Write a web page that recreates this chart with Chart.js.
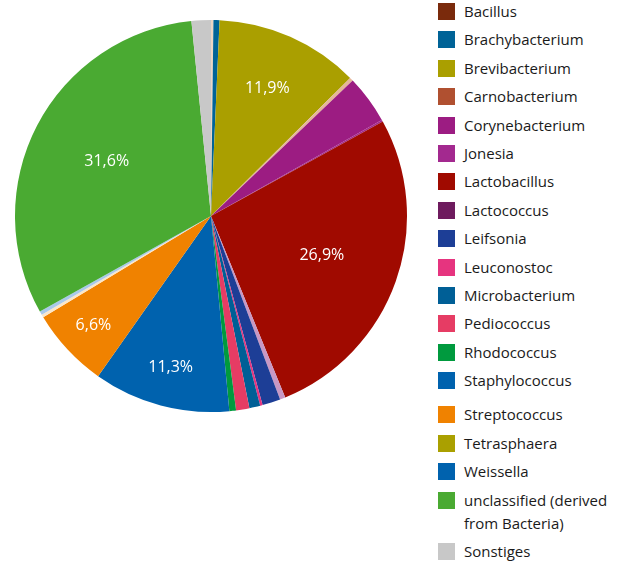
<!DOCTYPE html>
<html>
<head>
<meta charset="utf-8">
<script src="https://cdn.jsdelivr.net/npm/chart.js@4/dist/chart.umd.min.js"></script>
<style>
    body { margin: 0; background: #fff; width: 621px; height: 563px; position: relative; overflow: hidden; }
    #wrap { position: absolute; left: 0; top: 0; width: 422px; height: 432px; }
    #legend { position: absolute; left: 438px; top: 0; margin: 0; padding: 0; list-style: none;
              font-family: "Open Sans", sans-serif; font-size: 15px; color: #1a1a1a; }
    #legend li { position: relative; padding-left: 26px; line-height: 23px; min-height: 23px; margin-bottom: 5.42px; width: 180px; }
    #legend li span.box { position: absolute; left: 0; top: 3px; width: 17px; height: 17px; }
</style>
</head>
<body>
<div id="wrap"><canvas id="pieChart"></canvas></div>
<ul id="legend"></ul>
<script>
// Genus names (legend order = slice order, clockwise from 12 o'clock)
const genera = ['Bacillus', 'Brachybacterium', 'Brevibacterium', 'Carnobacterium', 'Corynebacterium',
    'Jonesia', 'Lactobacillus', 'Lactococcus', 'Leifsonia', 'Leuconostoc', 'Microbacterium',
    'Pediococcus', 'Rhodococcus', 'Staphylococcus', 'Streptococcus', 'Tetrasphaera', 'Weissella',
    'unclassified (derived from Bacteria)', 'Sonstiges'];

// Share in percent (estimated from the picture where no label is shown)
const shares = [0.2, 0.5, 11.9, 0.3, 4.0, 0.15, 26.9, 0.45, 1.5, 0.2, 0.9, 1.1, 0.55, 11.3, 6.6, 0.25, 0.3, 31.6, 1.6];

// legend swatch colours
const colors = ['#7a2a0c', '#006397', '#aa9f00', '#b05030', '#9c1c82', '#a3298f', '#a00a00', '#6e1b5e',
    '#1d3e96', '#e6347f', '#005f96', '#e63c64', '#009a3e', '#0062ae', '#f08200', '#aaa000', '#0062ae',
    '#4aaa32', '#c8c8c8'];

// the very thin slices come out pale in the original print
const sliceColors = colors.slice();
sliceColors[0] = '#ecd5c4';
sliceColors[3] = '#e5b59a';
sliceColors[7] = '#c898c4';
sliceColors[15] = '#fbe6c8';
sliceColors[16] = '#a9c9ea';

// only slices above this share get a value label
const labelMin = 5;
// how far out (fraction of radius) each labelled slice puts its text
const labelRadius = { 2: 0.71, 6: 0.6, 13: 0.8, 14: 0.82, 17: 0.6 };

const pieLabels = {
    id: 'pieLabels',
    afterDatasetsDraw(chart) {
        const ctx = chart.ctx;
        const meta = chart.getDatasetMeta(0);
        ctx.save();
        ctx.fillStyle = '#fff';
        ctx.font = '16px "Open Sans", sans-serif';
        ctx.textAlign = 'center';
        ctx.textBaseline = 'middle';
        meta.data.forEach((arc, i) => {
            const v = shares[i];
            if (v < labelMin) return;
            const p = arc.getProps(['x', 'y', 'startAngle', 'endAngle', 'outerRadius'], true);
            const mid = (p.startAngle + p.endAngle) / 2;
            const r = p.outerRadius * (labelRadius[i] || 0.65);
            ctx.fillText(v.toFixed(1).replace('.', ',') + '%', p.x + Math.cos(mid) * r, p.y + Math.sin(mid) * r);
        });
        ctx.restore();
    }
};

new Chart(document.getElementById('pieChart').getContext('2d'), {
    type: 'pie',
    data: {
        labels: genera,
        datasets: [{
            data: shares,
            backgroundColor: sliceColors,
            borderWidth: 0
        }]
    },
    options: {
        responsive: true,
        maintainAspectRatio: false,
        animation: false,
        layout: { padding: { left: 15, right: 15, top: 20, bottom: 20 } },
        plugins: {
            legend: { display: false },
            tooltip: { enabled: false }
        }
    },
    plugins: [pieLabels]
});

// HTML legend built from the same arrays
const legendEl = document.getElementById('legend');
genera.forEach((name, i) => {
    const li = document.createElement('li');
    const box = document.createElement('span');
    box.className = 'box';
    box.style.background = colors[i];
    li.appendChild(box);
    li.appendChild(document.createTextNode(name));
    if (name === 'Streptococcus') li.style.marginTop = '11px';
    legendEl.appendChild(li);
});
</script>
</body>
</html>
